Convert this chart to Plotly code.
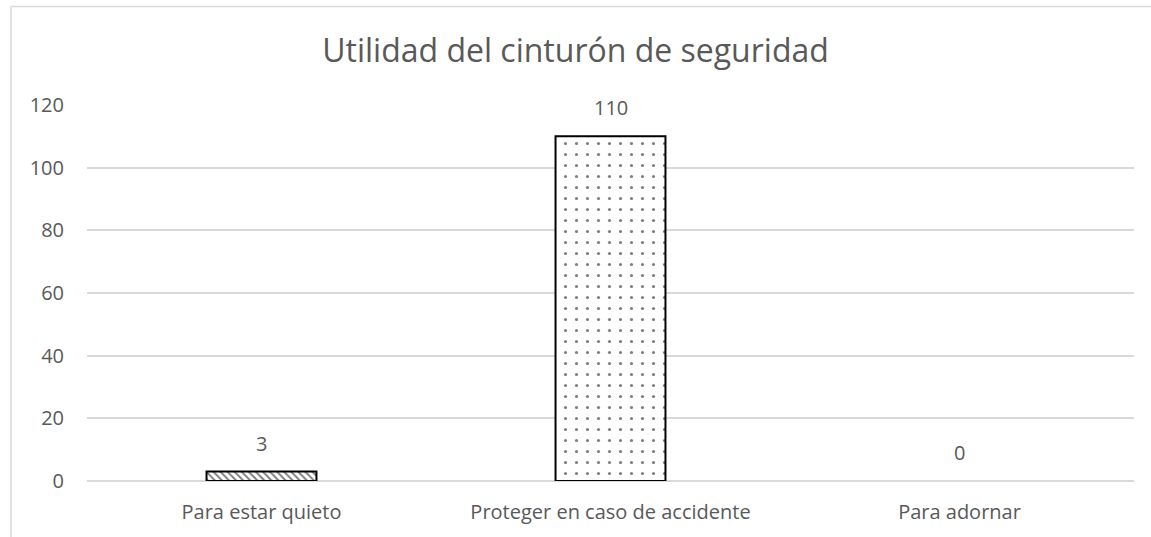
import plotly.graph_objects as go

categories = ["Para estar quieto", "Proteger en caso de accidente", "Para adornar"]
values = [3, 110, 0]
patterns = ["\\", ".", ""]

W, H = 1151, 537
L, R, T, B = 87, 1134, 105, 483  # plot area in pixels

font_name = "Open Sans"
gray = "#595959"

fig = go.Figure()
fig.add_trace(go.Bar(
    x=categories,
    y=values,
    marker=dict(
        color="white",
        line=dict(color="black", width=[2 if v else 0 for v in values]),
        pattern=dict(shape=patterns, fgcolor="black", bgcolor="white",
                     size=[5, 11, 8], solidity=[0.4, 0.065, 0.2]),
    ),
    showlegend=False,
))

# value labels above bars
for c, v in zip(categories, values):
    fig.add_annotation(x=c, y=v, text=str(v), showarrow=False, yanchor="bottom", yshift=13,
                       font=dict(family=font_name, size=20, color=gray))


# chart border (light gray frame, left and top visible)
def px_x(p):
    return (p - L) / (R - L)


def px_y(p):
    return (B - p) / (B - T)


border = dict(color="#d9d9d9", width=1.5)
fig.add_shape(type="line", xref="paper", yref="paper", x0=px_x(11), x1=px_x(11), y0=px_y(6), y1=px_y(560), line=border)
fig.add_shape(type="line", xref="paper", yref="paper", x0=px_x(11), x1=px_x(1170), y0=px_y(6), y1=px_y(6), line=border)

fig.update_xaxes(showline=False, showgrid=False, ticks="", ticklabelstandoff=17,
                 tickfont=dict(family=font_name, size=20, color=gray))
fig.update_yaxes(range=[0, 120], dtick=20, showgrid=True, gridcolor="#d9d9d9", gridwidth=1.5,
                 zeroline=True, zerolinecolor="#d9d9d9", zerolinewidth=1.5,
                 ticks="", ticklabelstandoff=22,
                 tickfont=dict(family=font_name, size=20, color=gray))

fig.update_layout(
    width=W, height=H,
    margin=dict(l=L, r=W - R, t=T, b=H - B),
    paper_bgcolor="white", plot_bgcolor="white",
    bargap=0.685,
    title=dict(text="Utilidad del cinturón de seguridad", x=0.5, xanchor="center", y=1 - 51 / H, yanchor="middle",
               font=dict(family=font_name, size=32, color=gray)),
)

fig.write_html("out.html", config={"displayModeBar": False},
               post_script="document.body.style.margin='0';")
